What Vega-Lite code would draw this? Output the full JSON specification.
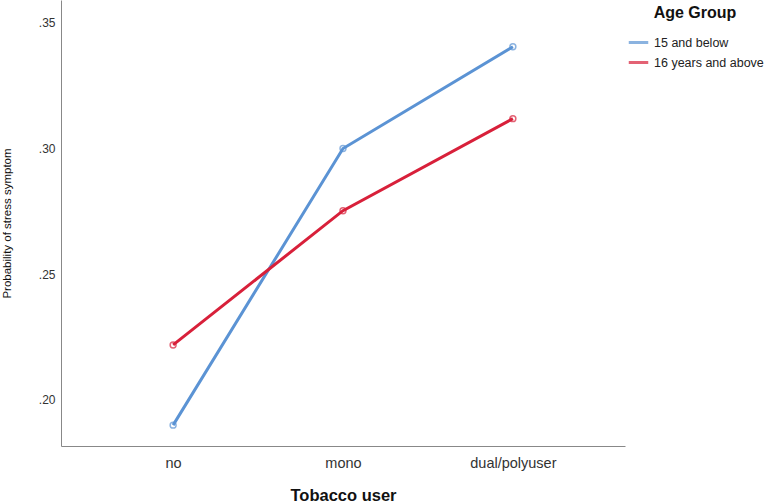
{
  "$schema": "https://vega.github.io/schema/vega-lite/v6.json",
  "autosize": "none",
  "width": 564,
  "height": 446,
  "padding": {"left": 61, "top": 0, "right": 141, "bottom": 58},
  "background": "white",
  "config": {
    "font": "Liberation Sans",
    "view": {"stroke": null},
    "axis": {"grid": false, "ticks": false, "domainColor": "#888888", "labelColor": "#333333", "labelFontSize": 12, "titleColor": "#111111"}
  },
  "data": {
    "values": [
      {"user": "no", "age": "15 and below", "p": 0.190},
      {"user": "mono", "age": "15 and below", "p": 0.300},
      {"user": "dual/polyuser", "age": "15 and below", "p": 0.3405},
      {"user": "no", "age": "16 years and above", "p": 0.2219},
      {"user": "mono", "age": "16 years and above", "p": 0.2753},
      {"user": "dual/polyuser", "age": "16 years and above", "p": 0.3119}
    ]
  },
  "encoding": {
    "x": {
      "field": "user", "type": "ordinal", "sort": ["no", "mono", "dual/polyuser"],
      "scale": {"type": "point", "padding": 0.66},
      "axis": {"title": "Tobacco user", "labelAngle": 0, "labelPadding": 10, "labelFontSize": 14.5, "titleFontSize": 16.5, "titleFontWeight": "bold", "titlePadding": 18}
    },
    "y": {
      "field": "p", "type": "quantitative",
      "scale": {"domain": [0.1817, 0.3591], "nice": false, "zero": false},
      "axis": {"title": "Probability of stress symptom", "values": [0.20, 0.25, 0.30, 0.35], "format": ".2f", "labelExpr": "replace(datum.label, '0.', '.')", "labelPadding": 6, "titleFontSize": 11.5, "titleFontWeight": "normal", "titlePadding": 26}
    },
    "color": {
      "field": "age", "type": "nominal",
      "scale": {"domain": ["15 and below", "16 years and above"], "range": ["#5b93d4", "#d8203a"]},
      "legend": {"title": "Age Group", "orient": "none", "legendX": 566, "legendY": 5, "titleFontSize": 16, "titleFontWeight": "bold", "titleColor": "#111111", "titlePadding": 10, "titleAnchor": "middle", "labelFontSize": 12.5, "labelColor": "#222222", "symbolType": "stroke", "symbolStrokeWidth": 3, "symbolSize": 380, "rowPadding": 2, "labelOffset": 4}
    }
  },
  "layer": [
    {"mark": {"type": "line", "strokeWidth": 3}},
    {"mark": {"type": "point", "filled": false, "size": 35, "strokeWidth": 1.5}}
  ]
}
